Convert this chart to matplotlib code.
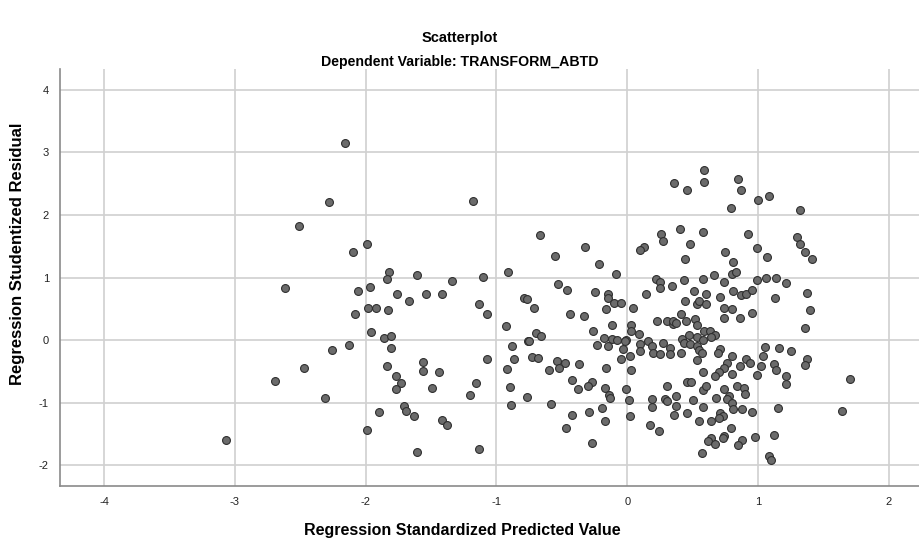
import matplotlib
matplotlib.use("Agg")
import matplotlib.pyplot as plt

plt.rcParams['font.family'] = ['Liberation Sans', 'DejaVu Sans']
plt.rcParams['axes.unicode_minus'] = False

title = "Scatterplot"
subtitle = "Dependent Variable: TRANSFORM_ABTD"
x_label = "Regression Standardized Predicted Value"
y_label = "Regression Studentized Residual"
x_ticks = [-4, -3, -2, -1, 0, 1, 2]
y_ticks = [-2, -1, 0, 1, 2, 3, 4]

# Left cluster
x_left = [-2.51, -2.62, -2.47, -2.69, -3.07,
          -2.16, -2.28, -1.99, -2.10, -1.82, -1.84, -1.61, -1.34, -1.10, -0.91, -1.18,
          -1.97, -2.06, -1.76, -1.54, -1.42, -1.67, -1.98, -1.92, -1.83, -2.08, -1.13,
          -1.07, -0.93, -1.96, -1.86, -1.81, -1.81, -2.26, -2.13, -1.84, -1.56, -1.56,
          -1.44, -1.77, -1.73, -1.77, -1.49, -1.07, -1.16, -1.20, -2.31, -1.71, -1.69,
          -1.63, -1.90, -1.99, -1.42, -1.38, -1.61, -1.13, -0.88, -0.87, -0.92, -0.90, -0.89]
y_left = [1.82, 0.83, -0.45, -0.66, -1.60,
          3.15, 2.21, 1.53, 1.40, 1.09, 0.97, 1.04, 0.94, 1.01, 1.08, 2.23,
          0.85, 0.79, 0.74, 0.73, 0.74, 0.63, 0.51, 0.52, 0.48, 0.41, 0.58,
          0.41, 0.23, 0.13, 0.04, 0.07, -0.12, -0.16, -0.08, -0.42, -0.35, -0.49,
          -0.51, -0.58, -0.68, -0.78, -0.76, -0.30, -0.68, -0.87, -0.92, -1.06, -1.13,
          -1.22, -1.15, -1.43, -1.27, -1.36, -1.78, -1.74, -0.09, -0.31, -0.46, -0.75, -1.03]

# Middle cluster
x_mid = [0.59, 0.59, 0.36, 0.46, -0.67, 0.40, 0.58, 0.26, 0.27, 0.48, -0.32, 0.13, 0.10,
         -0.55, 0.44, -0.22, -0.09, 0.22, 0.25, 0.25, 0.34, 0.43, 0.58, -0.53, -0.46, -0.25,
         -0.15, -0.15, 0.14, 0.51, 0.60, -0.79, -0.77, -0.10, -0.05, 0.04, -0.16, -0.71, 0.44,
         0.53, 0.55, -0.44, -0.33, 0.23, 0.30, 0.35, 0.35, 0.37, 0.41, 0.45, 0.52, 0.53, -0.12,
         0.03, -0.26, 0.03, 0.09, -0.70, -0.66, -0.76, -0.75, -0.18, -0.12, -0.08, -0.01, -0.02,
         0.16, 0.27, 0.42, 0.47, 0.53, 0.58, 0.59, 0.43, 0.48, 0.53, 0.55, 0.57, -0.23, -0.15,
         -0.03, 0.10, 0.10, 0.19, 0.20, 0.25, 0.33, 0.33, 0.41, -0.05, 0.02, 0.53, -0.73, -0.68,
         -0.54, -0.48, -0.52, -0.60, -0.37, -0.16, 0.03, 0.58, -0.42, -0.27, -0.30, -0.38, -0.17,
         -0.14, -0.13, -0.01, 0.01, 0.46, 0.49, 0.30, 0.58, -0.77, -0.58, 0.19, 0.19, 0.29, 0.30,
         0.37, 0.37, 0.50, 0.58, -0.19, -0.42, -0.29, -0.17, 0.02, -0.47, 0.17, 0.24, 0.36, 0.46,
         0.55, -0.27, 0.57]
y_mid = [2.71, 2.53, 2.51, 2.39, 1.68, 1.77, 1.72, 1.69, 1.59, 1.53, 1.49, 1.49, 1.44,
         1.35, 1.30, 1.21, 1.06, 0.98, 0.93, 0.84, 0.87, 0.96, 0.98, 0.89, 0.80, 0.77,
         0.74, 0.67, 0.73, 0.79, 0.74, 0.67, 0.66, 0.59, 0.59, 0.52, 0.49, 0.51, 0.63,
         0.57, 0.62, 0.42, 0.39, 0.30, 0.31, 0.26, 0.31, 0.28, 0.42, 0.30, 0.34, 0.24, 0.24,
         0.24, 0.14, 0.14, 0.09, 0.12, 0.07, -0.02, -0.01, 0.04, 0.01, 0.00, 0.00, -0.02,
         -0.02, -0.04, 0.01, 0.08, 0.05, 0.00, 0.15, -0.05, -0.06, -0.10, -0.16, -0.21, -0.08, -0.10,
         -0.14, -0.07, -0.17, -0.10, -0.21, -0.22, -0.13, -0.22, -0.20, -0.31, -0.26, -0.32, -0.27, -0.28,
         -0.33, -0.37, -0.45, -0.47, -0.38, -0.45, -0.48, -0.51, -0.63, -0.67, -0.74, -0.78, -0.76,
         -0.87, -0.92, -0.78, -0.95, -0.67, -0.67, -0.73, -0.80, -0.91, -1.02, -0.94, -1.07, -0.94, -0.98,
         -0.90, -1.05, -0.96, -1.07, -1.09, -1.20, -1.15, -1.29, -1.21, -1.40, -1.36, -1.46, -1.19, -1.16,
         -1.30, -1.65, -1.81]

# Right cluster
x_right = [0.85, 0.87, 1.00, 1.08, 0.79, 1.32, 0.92, 1.30, 1.32, 0.99, 1.36, 1.41, 1.07, 0.75,
           0.81, 0.80, 0.83, 0.66, 0.74, 0.99, 1.06, 1.14, 1.21, 0.71, 0.81, 0.87, 0.91, 0.95,
           1.13, 1.37, 1.40, 1.36, 0.60, 0.74, 0.80, 0.74, 0.86, 0.95, 0.63, 0.67, 0.64, 0.71,
           0.69, 0.80, 0.76, 0.74, 0.70, 0.67, 0.80, 0.86, 0.91, 0.94, 1.02, 0.99, 1.04, 1.05,
           1.16, 1.25, 1.12, 1.14, 1.21, 1.21, 1.37, 1.36, 1.70, 1.64, 0.60, 0.74, 0.84, 0.89,
           0.90, 0.78, 0.68, 0.76, 0.80, 0.81, 0.88, 0.95, 1.15, 0.71, 0.73, 0.70, 0.64, 0.79,
           0.74, 0.73, 0.64, 0.62, 0.67, 0.88, 0.85, 0.98, 1.12, 1.08, 1.10]
y_right = [2.58, 2.39, 2.24, 2.30, 2.11, 2.08, 1.70, 1.65, 1.54, 1.47, 1.41, 1.30, 1.33, 1.41,
           1.24, 1.05, 1.08, 1.04, 0.93, 0.96, 0.99, 0.99, 0.91, 0.69, 0.79, 0.72, 0.74, 0.80,
           0.68, 0.75, 0.48, 0.20, 0.58, 0.51, 0.50, 0.35, 0.36, 0.44, 0.14, 0.08, 0.05, -0.15,
           -0.21, -0.26, -0.36, -0.45, -0.51, -0.57, -0.54, -0.42, -0.30, -0.36, -0.42, -0.55, -0.26, -0.11,
           -0.12, -0.17, -0.38, -0.47, -0.58, -0.70, -0.31, -0.39, -0.62, -1.14, -0.73, -0.78, -0.73, -0.76,
           -0.86, -0.90, -0.93, -0.94, -1.00, -1.10, -1.10, -1.15, -1.08, -1.17, -1.22, -1.24, -1.29, -1.40,
           -1.54, -1.57, -1.57, -1.62, -1.66, -1.59, -1.68, -1.55, -1.52, -1.85, -1.92]

x_vals = x_left + x_mid + x_right
y_vals = y_left + y_mid + y_right

fig = plt.figure(figsize=(9.19, 5.41), dpi=100)
ax = fig.add_axes([60 / 919, 55 / 541, 859 / 919, 417 / 541])

ax.scatter(x_vals, y_vals, s=32, facecolor='#6b6b6b', edgecolor='#2e2e2e',
           linewidths=0.8, zorder=3)

ax.set_xlim(-4.337, 2.23)
ax.set_ylim(-2.331, 4.331)
ax.set_xticks(x_ticks)
ax.set_yticks(y_ticks)
ax.grid(True, color='#d0d0d0', linewidth=1.2, zorder=0)
ax.set_axisbelow(True)
for side in ['top', 'right']:
    ax.spines[side].set_visible(False)
for side in ['left', 'bottom']:
    ax.spines[side].set_color('#8a8a8a')
    ax.spines[side].set_linewidth(1.2)
ax.tick_params(length=0, labelsize=8, colors='#222222', pad=8)

fig.text(0.5, 1 - 38 / 541, title, ha='center', va='center', fontsize=10.5,
         fontweight='bold')
fig.text(0.5, 1 - 62 / 541, subtitle, ha='center', va='center', fontsize=10.2,
         fontweight='bold')
fig.text(462 / 919, 1 - 530 / 541, x_label, ha='center', va='center', fontsize=11.5,
         fontweight='bold')
fig.text(18 / 919, 1 - 254 / 541, y_label, ha='center', va='center', fontsize=12,
         fontweight='bold', rotation=90)

fig.savefig('out.png', dpi=100)
